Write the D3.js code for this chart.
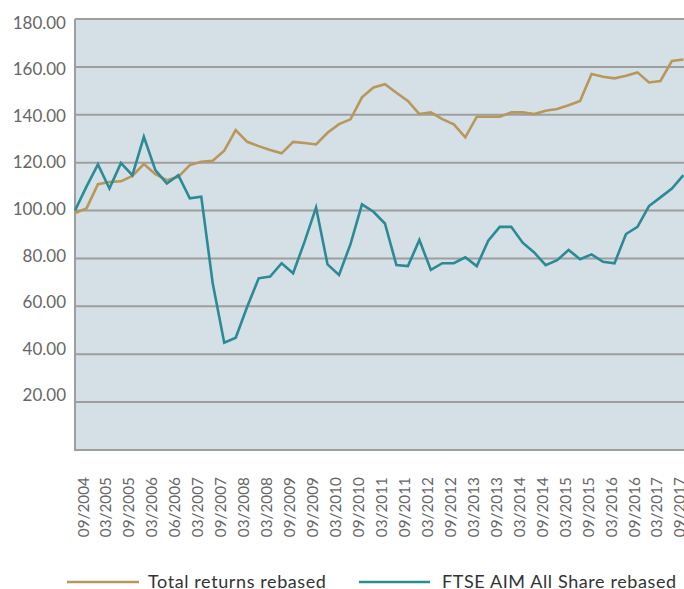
<!DOCTYPE html>
<html>
<head>
<meta charset="utf-8">
<script src="https://cdn.jsdelivr.net/npm/d3@7"></script>
<style>
  body { margin: 0; background: #fff; }
  text { font-family: Lato, "Open Sans", sans-serif; }
</style>
</head>
<body>
<div id="graphic"></div>
<script>
// tick labels, one for every second point (as printed on the original)
const tickLabels = ["09/2004", "03/2005", "09/2005", "03/2006", "06/2006", "03/2007", "09/2007",
  "03/2008", "03/2008", "09/2009", "09/2009", "03/2010", "09/2010", "03/2011", "09/2011",
  "03/2012", "09/2012", "03/2013", "09/2013", "03/2014", "09/2014", "03/2015", "09/2015",
  "03/2016", "09/2016", "03/2017", "09/2017"];

// quarterly values
const totalReturns = [99, 100.9, 111, 111.9, 112.2, 114.5, 119.4, 115.2, 112.7, 114.1,
  119, 120.4, 120.8, 125, 133.6, 128.7, 126.9, 125.3, 123.9, 128.7,
  128.2, 127.6, 132.5, 136.1, 138.1, 147.3, 151.4, 152.8, 149.2, 145.8,
  140.3, 141, 138.2, 136, 130.6, 139.2, 139.2, 139.2, 141, 141,
  140.3, 141.7, 142.4, 144, 145.8, 157, 155.9, 155.2, 156.3, 157.7,
  153.5, 154.1, 162.5, 163.1];

const ftseAim = [100, 110, 119.3, 109.2, 119.8, 114.8, 130.8, 116.9, 111.3, 114.8,
  105.1, 105.8, 69.5, 44.8, 46.9, 59.8, 71.7, 72.4, 78, 73.8,
  87, 101.3, 77.5, 73.1, 86, 102.6, 99.5, 94.6, 77.2, 76.8,
  87.7, 75.2, 78, 78, 80.5, 76.8, 87.4, 93.2, 93.2, 86.6,
  82.5, 77.2, 79.3, 83.5, 79.7, 81.7, 78.6, 78, 90.2, 93.2,
  101.9, 105.5, 109.2, 114.8];

const yTicks = [20, 40, 60, 80, 100, 120, 140, 160, 180];

const series = [
  {name: "Total returns rebased", values: totalReturns, color: "#b8975a"},
  {name: "FTSE AIM All Share rebased", values: ftseAim, color: "#2a8a95"}
];

const width = 684, height = 589;
const plot = {left: 75, top: 19, right: 684, bottom: 450};

const svg = d3.select("#graphic")
    .append("svg")
    .attr("width", width)
    .attr("height", height);

const x = d3.scaleLinear()
    .domain([0, totalReturns.length - 1])
    .range([plot.left, 683.4]);

const y = d3.scaleLinear()
    .domain([0, 180])
    .range([plot.bottom, plot.top]);

// the value labels on the original sit on a slightly tighter spacing than the grid
const yLabel = d3.scaleLinear()
    .domain([20, 180])
    .range([395, 22.7]);

// plot background
svg.append("rect")
    .attr("x", plot.left)
    .attr("y", plot.top)
    .attr("width", plot.right - plot.left + 10)
    .attr("height", plot.bottom - plot.top)
    .attr("fill", "#d5dfe6");

// horizontal grid
svg.append("g")
    .selectAll("line")
    .data(yTicks)
    .join("line")
    .attr("x1", plot.left)
    .attr("x2", plot.right)
    .attr("y1", d => y(d))
    .attr("y2", d => y(d))
    .attr("stroke", "#9e9e9e")
    .attr("stroke-width", 2);

// axis lines
svg.append("line")
    .attr("x1", plot.left).attr("x2", plot.left)
    .attr("y1", plot.top).attr("y2", plot.bottom + 1)
    .attr("stroke", "#9e9e9e").attr("stroke-width", 2);
svg.append("line")
    .attr("x1", plot.left - 1).attr("x2", plot.right)
    .attr("y1", plot.bottom).attr("y2", plot.bottom)
    .attr("stroke", "#9e9e9e").attr("stroke-width", 2);

// y labels
svg.append("g")
    .selectAll("text")
    .data(yTicks)
    .join("text")
    .attr("x", 66)
    .attr("y", d => yLabel(d))
    .attr("dy", "0.36em")
    .attr("text-anchor", "end")
    .attr("font-size", 17)
    .attr("fill", "#666")
    .text(d => d3.format(".2f")(d));

// x labels, rotated
svg.append("g")
    .selectAll("text")
    .data(tickLabels)
    .join("text")
    .attr("transform", (d, i) => `translate(${x(i * 2) + 8}, 477) rotate(-90)`)
    .attr("dy", "0.36em")
    .attr("text-anchor", "end")
    .attr("font-size", 15.3)
    .attr("fill", "#666")
    .text(d => d);

// lines
const line = d3.line()
    .x((d, i) => x(i))
    .y(d => y(d));

svg.append("g")
    .selectAll("path")
    .data(series)
    .join("path")
    .attr("d", d => line(d.values))
    .attr("fill", "none")
    .attr("stroke", d => d.color)
    .attr("stroke-width", 2.6)
    .attr("stroke-linejoin", "miter");

// legend
const legendPos = [67, 359];
const legend = svg.append("g")
    .selectAll("g")
    .data(series)
    .join("g")
    .attr("transform", (d, i) => `translate(${legendPos[i]}, 582)`);

legend.append("line")
    .attr("x1", 0).attr("x2", (d, i) => i === 0 ? 72 : 71)
    .attr("y1", 0).attr("y2", 0)
    .attr("stroke", d => d.color)
    .attr("stroke-width", 2.6);

legend.append("text")
    .attr("x", (d, i) => i === 0 ? 81 : 83)
    .attr("dy", "0.36em")
    .attr("font-size", 18)
    .attr("letter-spacing", 0.6)
    .attr("fill", "#333")
    .text(d => d.name);
</script>
</body>
</html>
